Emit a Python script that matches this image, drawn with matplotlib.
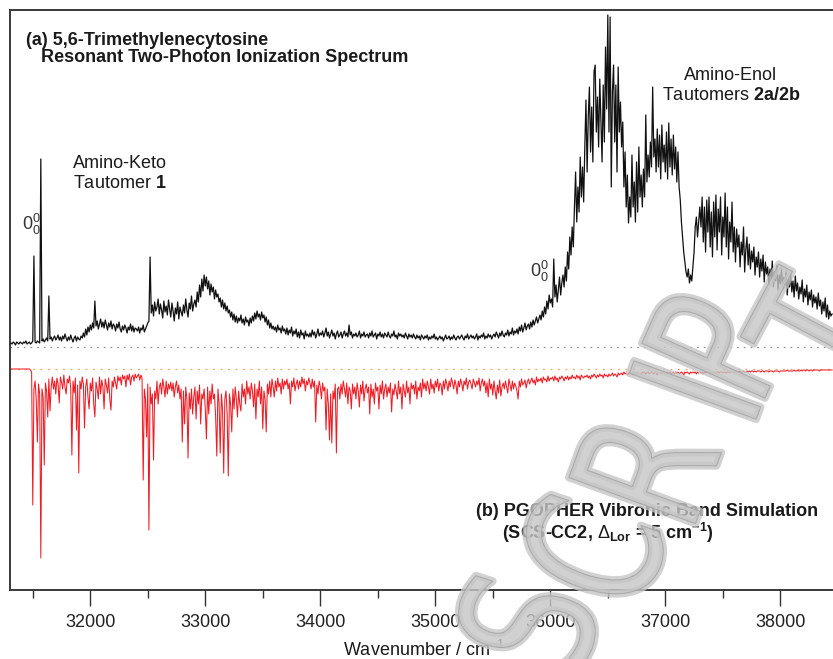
import numpy as np
import matplotlib
matplotlib.use("Agg")
import matplotlib.pyplot as plt
from matplotlib.ticker import MultipleLocator
from matplotlib.textpath import TextPath
from matplotlib.font_manager import FontProperties
from matplotlib.patches import PathPatch
from matplotlib.transforms import Affine2D

plt.rcParams['font.family'] = ['Liberation Sans', 'DejaVu Sans']
plt.rcParams['mathtext.fontset'] = 'custom'
plt.rcParams['mathtext.rm'] = 'Liberation Sans'
plt.rcParams['mathtext.it'] = 'Liberation Sans:italic'
plt.rcParams['mathtext.bf'] = 'Liberation Sans:bold'
plt.rcParams['mathtext.sf'] = 'Liberation Sans'

# ---------------- data ----------------
start_wavenumber = 31310   # cm-1, first sample
step_wavenumber = 10       # cm-1 sample spacing

# (a) R2PI spectrum, intensity above its baseline (arb. units)
r2pi_intensity = [
    4, 3, 5, 4, 2, 5, 4, 3, 5, 4,            # 31310
    3, 5, 4, 6, 3, 4, 5, 3, 4, 6,            # 31410
    91, 5, 4, 6, 5, 4, 188, 6, 8, 5,         # 31510
    7, 9, 6, 51, 8, 10, 6, 9, 11, 7,         # 31610
    9, 12, 7, 10, 6, 11, 8, 13, 9, 6,        # 31710
    10, 7, 12, 8, 5, 9, 11, 6, 10, 8,        # 31810
    7, 11, 9, 14, 10, 18, 12, 20, 15, 22,    # 31910
    17, 24, 19, 46, 21, 26, 18, 23, 28, 20,  # 32010
    25, 19, 27, 22, 17, 24, 20, 26, 18, 23,  # 32110
    21, 16, 23, 19, 25, 18, 15, 21, 17, 22,  # 32210
    19, 14, 20, 17, 23, 16, 21, 15, 19, 18,  # 32310
    16, 20, 14, 19, 17, 22, 15, 18, 21, 24,  # 32410
    26, 90, 34, 42, 31, 45, 36, 40, 48, 33,  # 32510
    43, 37, 29, 46, 35, 41, 32, 47, 38, 30,  # 32610
    44, 36, 26, 39, 33, 45, 28, 40, 35, 31,  # 32710
    42, 34, 48, 37, 30, 44, 38, 51, 36, 43,  # 32810
    47, 40, 55, 45, 62, 50, 68, 56, 72, 61,  # 32910
    70, 58, 66, 52, 63, 55, 60, 48, 57, 50,  # 33010
    53, 45, 49, 40, 47, 38, 44, 36, 41, 34,  # 33110
    37, 30, 35, 27, 33, 25, 31, 24, 29, 26,  # 33210
    32, 24, 28, 22, 30, 25, 27, 21, 29, 24,  # 33310
    31, 26, 34, 28, 36, 30, 33, 27, 35, 29,  # 33410
    32, 25, 30, 22, 27, 19, 24, 18, 21, 17,  # 33510
    20, 15, 22, 17, 19, 14, 21, 16, 18, 13,  # 33610
    19, 12, 17, 14, 20, 11, 16, 13, 18, 10,  # 33710
    15, 9, 17, 12, 14, 8, 16, 11, 13, 10,    # 33810
    14, 10, 17, 12, 15, 9, 13, 18, 11, 14,   # 33910
    12, 16, 10, 14, 19, 11, 15, 9, 13, 17,   # 34010
    11, 14, 8, 13, 16, 10, 12, 15, 9, 13,    # 34110
    16, 11, 14, 10, 22, 12, 15, 9, 13, 11,   # 34210
    14, 10, 12, 16, 9, 13, 11, 15, 10, 12,   # 34310
    13, 9, 14, 11, 16, 10, 12, 14, 8, 13,    # 34410
    11, 15, 10, 13, 9, 14, 12, 10, 15, 11,   # 34510
    9, 13, 11, 16, 10, 12, 8, 14, 11, 13,    # 34610
    10, 12, 9, 14, 11, 8, 13, 10, 12, 9,     # 34710
    13, 10, 8, 12, 9, 11, 7, 12, 10, 8,      # 34810
    11, 9, 12, 7, 10, 8, 11, 9, 13, 8,       # 34910
    10, 7, 9, 11, 8, 10, 6, 9, 12, 8,        # 35010
    9, 11, 7, 10, 8, 12, 9, 7, 10, 11,       # 35110
    8, 10, 12, 9, 7, 11, 9, 13, 8, 10,       # 35210
    12, 9, 11, 8, 10, 13, 7, 11, 9, 12,      # 35310
    10, 14, 8, 11, 9, 13, 10, 12, 8, 11,     # 35410
    13, 10, 15, 12, 9, 14, 11, 16, 12, 10,   # 35510
    14, 12, 17, 11, 15, 13, 19, 12, 16, 14,  # 35610
    18, 13, 20, 16, 22, 15, 19, 24, 17, 21,  # 35710
    23, 18, 25, 20, 27, 22, 26, 30, 24, 28,  # 35810
    32, 27, 36, 30, 40, 33, 46, 38, 52, 44,  # 35910
    48, 40, 88, 50, 62, 45, 58, 70, 52, 64,  # 36010
    72, 60, 80, 66, 95, 78, 110, 92, 120, 100,       # 36110
    140, 175, 125, 160, 135, 190, 150, 180, 145, 200,  # 36210
    247, 175, 230, 260, 195, 240, 185, 275, 282, 215,  # 36310
    250, 200, 268, 225, 185, 262, 205, 300, 238, 332,  # 36410
    215, 330, 160, 255, 282, 205, 262, 175, 280, 215,  # 36510
    245, 200, 225, 160, 195, 140, 172, 124, 150, 130,  # 36610
    192, 140, 165, 125, 185, 135, 200, 150, 172, 140,  # 36710
    178, 150, 232, 165, 192, 170, 205, 180, 260, 190,  # 36810
    208, 175, 218, 180, 212, 168, 222, 185, 202, 175,  # 36910
    215, 168, 224, 180, 208, 172, 212, 178, 200, 165,  # 37010
    195, 160, 147, 125, 110, 95, 85, 75, 70, 78,       # 37110
    64, 72, 66, 80, 95, 120, 130, 110, 125, 140,       # 37210
    120, 150, 105, 140, 95, 147, 115, 150, 100, 135,   # 37310
    90, 145, 110, 152, 97, 138, 115, 150, 92, 130,     # 37410
    110, 154, 100, 140, 88, 125, 105, 145, 95, 120,    # 37510
    85, 118, 100, 112, 80, 105, 92, 120, 75, 98,       # 37610
    110, 82, 103, 78, 96, 85, 100, 72, 90, 80,         # 37710
    95, 70, 88, 76, 92, 65, 85, 73, 80, 62,            # 37810
    78, 68, 86, 60, 75, 66, 82, 57, 72, 63,            # 37910
    80, 58, 70, 62, 76, 52, 68, 60, 73, 55,            # 38010
    66, 50, 71, 56, 64, 48, 60, 53, 67, 45,            # 38110
    58, 50, 62, 42, 55, 47, 57, 40, 52, 44,            # 38210
    50, 38, 54, 41, 47, 33, 45, 36, 49, 30,            # 38310
    42, 28, 36, 31, 33,                                # 38410
]

# (b) PGOPHER simulation, intensity drawn downward from its baseline
pgopher_intensity = [
    0, 0, 0, 0, 0, 0, 0, 0, 0, 0,            # 31310
    0, 0, 0, 0, 0, 0, 0, 1, 3, 136,          # 31410
    20, 12, 30, 73, 15, 25, 189, 20, 28, 96,  # 31510
    14, 22, 48, 10, 42, 18, 8, 20, 12, 25,   # 31610
    9, 15, 34, 8, 13, 20, 6, 18, 25, 10,     # 31710
    14, 7, 19, 86, 12, 24, 9, 61, 16, 104,  # 31810
    12, 20, 8, 15, 59, 18, 10, 28, 40, 14,  # 31910
    22, 9, 35, 48, 13, 20, 30, 8, 25, 11,   # 32010
    18, 40, 10, 16, 24, 9, 30, 41, 12, 18,  # 32110
    8, 14, 20, 7, 12, 8, 16, 6, 10, 7,      # 32210
    18, 6, 11, 5, 16, 8, 6, 12, 5, 9,       # 32310
    7, 5, 11, 6, 9, 111, 20, 30, 68, 15,    # 32410
    161, 18, 35, 25, 91, 22, 30, 12, 35, 18,  # 32510
    14, 25, 10, 18, 28, 12, 25, 15, 20, 13,  # 32610
    22, 14, 28, 18, 12, 24, 16, 30, 20, 73,  # 32710
    22, 55, 18, 30, 89, 24, 40, 20, 45, 28,  # 32810
    18, 50, 22, 35, 16, 55, 25, 30, 20, 40,  # 32910
    70, 18, 45, 22, 35, 15, 30, 25, 48, 87,  # 33010
    20, 35, 84, 25, 40, 104, 30, 22, 45, 107,  # 33110
    25, 35, 63, 20, 40, 18, 30, 48, 22, 35,  # 33210
    42, 15, 28, 20, 35, 12, 25, 18, 30, 14,  # 33310
    22, 38, 15, 50, 20, 28, 12, 35, 18, 60,  # 33410
    22, 30, 63, 15, 25, 12, 28, 10, 18, 28,  # 33510
    12, 22, 9, 18, 14, 25, 10, 20, 12, 16,   # 33610
    10, 20, 14, 35, 12, 18, 9, 22, 15, 11,   # 33710
    20, 12, 18, 8, 15, 10, 22, 12, 16, 9,    # 33810
    14, 20, 10, 18, 12, 53, 16, 25, 12, 18,  # 33910
    30, 14, 22, 18, 61, 20, 35, 71, 25, 74,  # 34010
    22, 30, 15, 84, 20, 18, 30, 15, 25, 12,  # 34110
    20, 28, 14, 35, 18, 22, 40, 15, 25, 18,  # 34210
    30, 14, 22, 38, 16, 25, 12, 32, 20, 15,  # 34310
    24, 18, 45, 15, 28, 20, 35, 14, 22, 18,  # 34410
    40, 16, 25, 12, 30, 20, 15, 28, 18, 24,  # 34510
    14, 43, 20, 26, 15, 22, 30, 12, 25, 18,  # 34610
    40, 15, 22, 28, 12, 24, 18, 35, 14, 20,  # 34710
    16, 25, 12, 30, 18, 22, 14, 28, 10, 20,  # 34810
    14, 22, 12, 18, 25, 10, 20, 15, 24, 12,  # 34910
    18, 10, 22, 14, 16, 26, 12, 20, 10, 15,  # 35010
    22, 12, 18, 9, 14, 20, 11, 16, 25, 12,   # 35110
    18, 10, 15, 22, 12, 16, 9, 20, 13, 11,   # 35210
    15, 20, 10, 14, 18, 12, 16, 9, 22, 14,   # 35310
    10, 17, 12, 24, 14, 28, 10, 20, 15, 26,  # 35410
    12, 22, 30, 16, 24, 11, 27, 18, 14, 20,  # 35510
    12, 18, 24, 10, 16, 22, 12, 20, 14, 17,  # 35610
    22, 30, 12, 18, 10, 16, 14, 11, 19, 13,  # 35710
    10, 15, 12, 9, 14, 11, 16, 8, 13, 10,    # 35810
    12, 9, 14, 8, 11, 10, 13, 7, 12, 9,      # 35910
    10, 8, 12, 7, 11, 9, 13, 8, 10, 7,       # 36010
    9, 12, 8, 10, 7, 11, 8, 10, 6, 9,        # 36110
    8, 10, 6, 9, 7, 11, 6, 8, 9, 7,          # 36210
    8, 6, 9, 7, 10, 6, 8, 5, 7, 9,           # 36310
    6, 8, 5, 7, 6, 9, 5, 7, 6, 8,            # 36410
    5, 7, 6, 4, 7, 5, 6, 8, 4, 6,            # 36510
    5, 4, 6, 3, 5, 4, 6, 5, 3, 5,            # 36610
    4, 6, 3, 5, 4, 3, 5, 4, 6, 3,            # 36710
    4, 3, 5, 4, 3, 5, 4, 3, 4, 5,            # 36810
    3, 4, 6, 3, 4, 3, 5, 4, 3, 4,            # 36910
    5, 3, 4, 3, 5, 4, 3, 5, 3, 4,            # 37010
    3, 5, 4, 3, 4, 6, 3, 4, 3, 4,            # 37110
    5, 3, 4, 3, 4, 3, 5, 3, 4, 3,            # 37210
    4, 3, 5, 3, 4, 3, 3, 4, 3, 5,            # 37310
    3, 4, 3, 4, 3, 3, 4, 3, 3, 4,            # 37410
    3, 3, 4, 3, 3, 4, 2, 3, 3, 4,            # 37510
    3, 2, 3, 3, 2, 4, 3, 2, 3, 3,            # 37610
    2, 3, 2, 3, 2, 2, 3, 2, 3, 2,            # 37710
    2, 2, 3, 2, 2, 3, 2, 2, 2, 3,            # 37810
    2, 2, 2, 3, 2, 2, 2, 2, 3, 2,            # 37910
    2, 2, 2, 2, 2, 1, 2, 2, 2, 2,            # 38010
    2, 1, 2, 2, 1, 2, 2, 1, 2, 1,            # 38110
    1, 2, 1, 1, 2, 1, 1, 2, 1, 1,            # 38210
    1, 1, 1, 2, 1, 1, 1, 1, 1, 1,            # 38310
    1, 1, 1, 1, 1,                           # 38410
]

x_ticks = [32000, 33000, 34000, 35000, 36000, 37000, 38000]
x_tick_labels = ["32000", "33000", "34000", "35000", "36000", "37000", "38000"]

# ---------------- layout ----------------
W, H = 833, 659
fig = plt.figure(figsize=(W / 100, H / 100), dpi=100)
ax = fig.add_axes([10 / W, 69 / H, 823 / W, 580 / H])

BASE_A = 243   # offset of spectrum (a) baseline
BASE_B = 221   # offset of spectrum (b) baseline

wn_a = start_wavenumber + step_wavenumber * np.arange(len(r2pi_intensity))
wn_b = start_wavenumber + step_wavenumber * np.arange(len(pgopher_intensity))
ya = BASE_A + np.asarray(r2pi_intensity, float)
yb = BASE_B - np.asarray(pgopher_intensity, float)

ax.axhline(BASE_A, color='#8a8a8a', lw=0.8, ls=(0, (1.5, 4.5)), zorder=1)
ax.axhline(BASE_B, color='#f4a460', lw=0.9, ls=(0, (1.5, 4.5)), zorder=1)
ax.plot(wn_a, ya, color='#111111', lw=0.9, zorder=3)
ax.plot(wn_b, yb, color='#ee1c24', lw=0.75, zorder=3)

ax.set_xlim(31302, 38458)
ax.set_ylim(0, 580)
ax.set_yticks([])
ax.set_xticks(x_ticks)
ax.set_xticklabels(x_tick_labels)
ax.xaxis.set_minor_locator(MultipleLocator(500))
ax.tick_params(axis='x', which='major', direction='out', length=11.5, width=1.0,
               color='#333333', labelsize=13, pad=6, labelcolor='#222222')
ax.tick_params(axis='x', which='minor', direction='out', length=5.8, width=1.0,
               color='#333333')
for s in ['left', 'top', 'bottom']:
    ax.spines[s].set_linewidth(1.4)
    ax.spines[s].set_color('#3a3a3a')
ax.spines['right'].set_visible(False)


def fx(x):
    return x / W


def fy(y):
    return 1 - y / H


tc = '#1a1a1a'
fig.text(fx(26), fy(45), '(a) 5,6-Trimethylenecytosine', fontsize=13,
         fontweight='bold', ha='left', va='baseline', color=tc)
fig.text(fx(41), fy(62), 'Resonant Two-Photon Ionization Spectrum', fontsize=13,
         fontweight='bold', ha='left', va='baseline', color=tc)
fig.text(fx(120), fy(164), 'Amino-Keto', fontsize=13, ha='center', va='center', color=tc)
fig.text(fx(120), fy(184), r'Tautomer $\mathbf{1}$', fontsize=13, ha='center',
         va='center', color=tc)
fig.text(fx(731), fy(75), 'Amino-Enol', fontsize=13, ha='center', va='center', color=tc)
fig.text(fx(731), fy(95), r'Tautomers $\mathbf{2a/2b}$', fontsize=13, ha='center',
         va='center', color=tc)
fig.text(fx(22), fy(224), r'$\mathregular{0^0_0}$', fontsize=13, ha='left',
         va='center', color='#333333')
fig.text(fx(530), fy(271), r'$\mathregular{0^0_0}$', fontsize=13, ha='left',
         va='center', color='#333333')
fig.text(fx(476), fy(512), '(b) PGOPHER Vibronic Band Simulation', fontsize=13,
         fontweight='bold', ha='left', va='center', color=tc)
fig.text(fx(502), fy(533), r'(SCS-CC2, $\Delta_{\mathbf{Lor}}$ = 5 cm$^{\mathbf{-1}}$)',
         fontsize=13, fontweight='bold', ha='left', va='center', color=tc)
fig.text(fx(424), fy(650), r'Wavenumber / cm$^{-1}$', fontsize=13, ha='center',
         va='center', color=tc)

# watermark (letter, centre x, centre y in pixels, rotation)
fp = FontProperties(family='DejaVu Sans', weight='normal')
wm = [('S', 527, 622, 72), ('C', 592, 550, 71), ('R', 645, 465, 70),
      ('I', 695, 390, 70), ('P', 716, 342, 66), ('T', 819, 332, 62)]
em = 135 / 0.73
for ch, X, Y, rot in wm:
    tp = TextPath((0, 0), ch, size=1, prop=fp)
    ext = tp.get_extents()
    cx = (ext.x0 + ext.x1) / 2
    cy = 0.365
    tr = Affine2D().translate(-cx, -cy).scale(em * 0.72, em).rotate_deg(rot).translate(X, H - Y)
    patch = PathPatch(tp, transform=tr, facecolor='#c6c6c6', edgecolor='#c6c6c6',
                      lw=5.5, alpha=0.8, zorder=10, joinstyle='round')
    fig.add_artist(patch)
    patch2 = PathPatch(tp, transform=tr, facecolor='none', edgecolor='#a3a3a3',
                       lw=0.8, alpha=0.8, zorder=10.5)
    fig.add_artist(patch2)

fig.savefig('out.png', dpi=100)
